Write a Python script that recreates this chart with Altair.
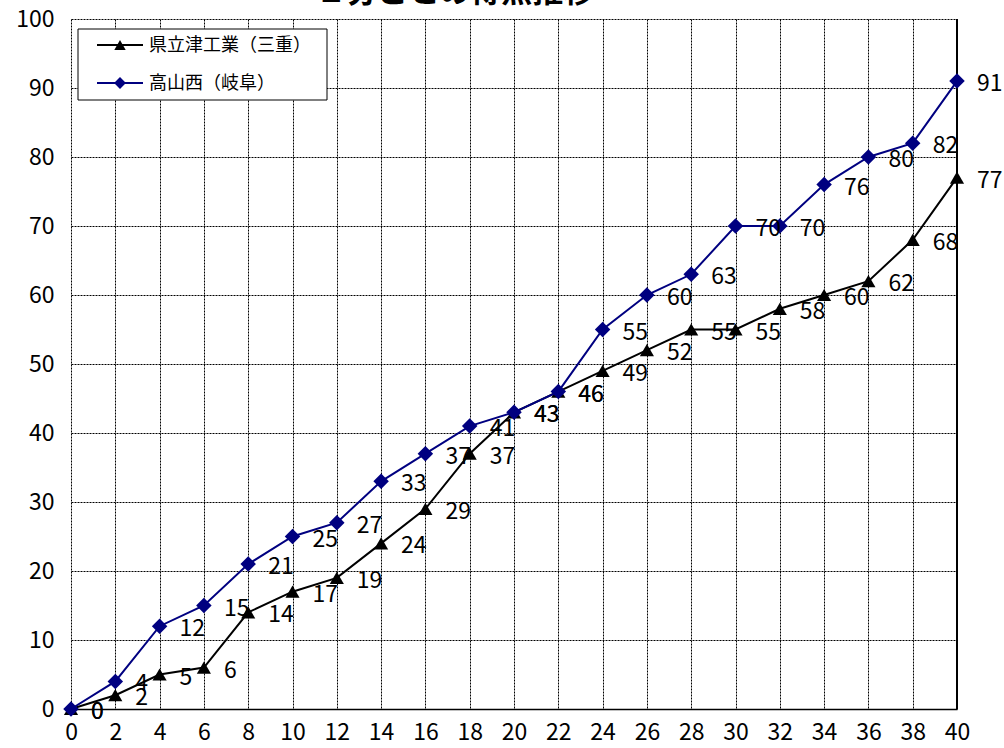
import altair as alt
import pandas as pd

minutes = list(range(0, 42, 2))
tsu_scores = [0, 2, 5, 6, 14, 17, 19, 24, 29, 37, 43, 46, 49, 52, 55, 55, 58, 60, 62, 68, 77]
takayama_scores = [0, 4, 12, 15, 21, 25, 27, 33, 37, 41, 43, 46, 55, 60, 63, 70, 70, 76, 80, 82, 91]
team_tsu = "県立津工業（三重）"
team_takayama = "高山西（岐阜）"
title_text = "２分ごとの得点推移"
x_ticks = list(range(0, 42, 2))
y_ticks = list(range(0, 110, 10))

FONT = "Noto Sans CJK JP"

df_tsu = pd.DataFrame({"min": minutes, "score": tsu_scores})
df_tak = pd.DataFrame({"min": minutes, "score": takayama_scores})

xs = alt.Scale(domain=[0, 40], nice=False, zero=False)
ys = alt.Scale(domain=[0, 100], nice=False)

xenc = alt.X("min:Q", scale=xs, axis=alt.Axis(
    values=x_ticks, title=None, grid=True, gridColor="#000", gridDash=[2, 1],
    gridOpacity=1, gridWidth=1, domain=True, domainColor="#000", domainWidth=1.5, ticks=False,
    labelFont=FONT, labelFontSize=23, labelColor="#000", labelPadding=12,
    labelFlush=False))
yenc = alt.Y("score:Q", scale=ys, axis=alt.Axis(
    values=y_ticks, title=None, grid=True, gridColor="#000", gridDash=[2, 1],
    gridOpacity=1, gridWidth=1, domain=False, ticks=False,
    labelFont=FONT, labelFontSize=23, labelColor="#000", labelPadding=17))

base_tsu = alt.Chart(df_tsu)
base_tak = alt.Chart(df_tak)

grid = base_tsu.mark_point(opacity=0).encode(x=xenc, y=yenc)

line_tsu = base_tsu.mark_line(color="#000000", strokeWidth=2).encode(x="min:Q", y="score:Q")
pts_tsu = base_tsu.mark_point(shape="triangle-up", filled=True, color="#000000", size=200, opacity=1).encode(x="min:Q", y="score:Q")
line_tak = base_tak.mark_line(color="#000080", strokeWidth=2).encode(x="min:Q", y="score:Q")
pts_tak = base_tak.mark_point(shape="diamond", filled=True, color="#000080", size=240, opacity=1).encode(x="min:Q", y="score:Q")

lab_tsu = base_tsu.mark_text(align="left", baseline="middle", dx=20, dy=3, font=FONT, fontSize=23, color="#000").encode(
    x="min:Q", y="score:Q", text="score:Q")
lab_tak = base_tak.mark_text(align="left", baseline="middle", dx=20, dy=3, font=FONT, fontSize=23, color="#000").encode(
    x="min:Q", y="score:Q", text="score:Q")

# right frame
frame = base_tsu.mark_rule(color="#000", strokeWidth=1.5).encode(
    x=alt.value(886), y=alt.value(0), y2=alt.value(690))

# legend
leg_df = pd.DataFrame({"k": [0]})
leg_box = alt.Chart(leg_df).mark_rect(fill="white", stroke="#000", strokeWidth=1).encode(
    x=alt.value(7), x2=alt.value(256), y=alt.value(10), y2=alt.value(81))
leg_l1 = alt.Chart(leg_df).mark_rule(color="#000", strokeWidth=2).encode(
    x=alt.value(26), x2=alt.value(72), y=alt.value(26))
leg_p1 = alt.Chart(leg_df).mark_point(shape="triangle-up", filled=True, color="#000", size=130, opacity=1).encode(
    x=alt.value(49), y=alt.value(26))
leg_t1 = alt.Chart(pd.DataFrame({"t": [team_tsu]})).mark_text(align="left", baseline="middle", font=FONT, fontSize=18, color="#000").encode(
    x=alt.value(78), y=alt.value(27), text="t:N")
leg_l2 = alt.Chart(leg_df).mark_rule(color="#000080", strokeWidth=2).encode(
    x=alt.value(26), x2=alt.value(72), y=alt.value(64))
leg_p2 = alt.Chart(leg_df).mark_point(shape="diamond", filled=True, color="#000080", size=140, opacity=1).encode(
    x=alt.value(49), y=alt.value(64))
leg_t2 = alt.Chart(pd.DataFrame({"t": [team_takayama]})).mark_text(align="left", baseline="middle", font=FONT, fontSize=18, color="#000").encode(
    x=alt.value(78), y=alt.value(65), text="t:N")

title = alt.Chart(pd.DataFrame({"t": [title_text]})).mark_text(
    align="center", baseline="alphabetic", font=FONT, fontSize=31, fontWeight="bold", color="#000").encode(
    x=alt.value(384), y=alt.value(-17), text="t:N")

chart = alt.layer(
    grid, frame, line_tsu, pts_tsu, line_tak, pts_tak, lab_tsu, lab_tak,
    leg_box, leg_l1, leg_p1, leg_t1, leg_l2, leg_p2, leg_t2, title
).properties(
    width=886, height=690,
    autosize=alt.AutoSizeParams(type="none"),
    padding={"left": 71, "top": 19, "right": 47, "bottom": 39},
    background="white",
).configure_view(stroke=None)

chart.save("out.html", embed_options={"renderer": "svg", "actions": False})
